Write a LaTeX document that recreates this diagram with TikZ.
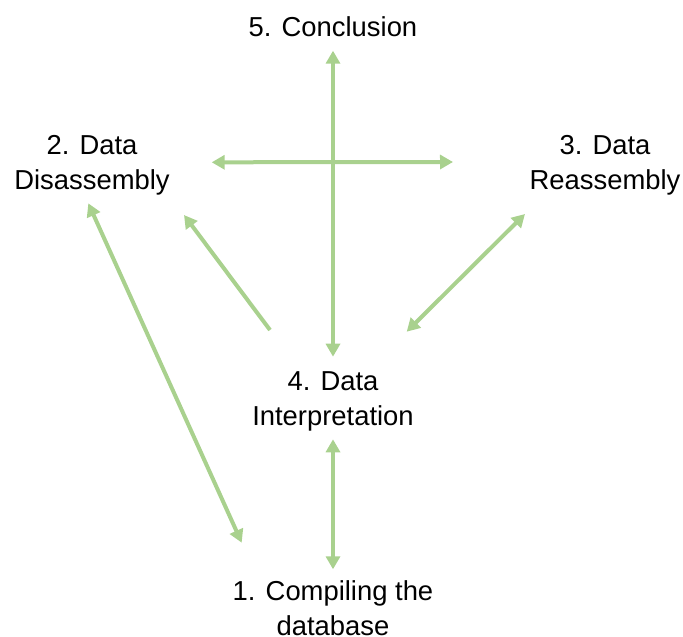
\documentclass[tikz,border=0pt]{standalone}
\usepackage{fontspec}
\setmainfont{Liberation Sans}
\usepackage{tikz}
\usetikzlibrary{arrows.meta}
\definecolor{leaf}{HTML}{A9D18E}

\begin{document}
\begin{tikzpicture}[x=1pt, y=-1pt,
		every node/.style={inner sep=0pt, align=center, font=\fontsize{27.4}{35}\selectfont},
		link/.style={leaf, line width=4pt, -{Triangle[length=13pt, width=14pt]}},
		both/.style={link, {Triangle[length=13pt, width=14pt]}-{Triangle[length=13pt, width=14pt]}}]
	\useasboundingbox (0,0) rectangle (683,637);
	\node (conc) at (333,27) {5. Conclusion};
	\node (disasm) at (92,165.5) {2. Data\\Disassembly};
	\node (reasm) at (605,165.5) {3. Data\\Reassembly};
	\node (interp) at (333,401) {4. Data\\Interpretation};
	\node (compile) at (333,608.5) {1. Compiling the\\database};
	\draw[both] ([shift={(0,23.7)}]conc.center) -- ([shift={(0,-44.3)}]interp.center);
	\draw[both] ([shift={(119.7,-3.2)}]disasm.center) -- ([shift={(-152,-3.5)}]reasm.center);
	\draw[link] ([shift={(-63,-71)}]interp.center) -- ([shift={(92,49.5)}]disasm.center);
	\draw[both] ([shift={(73.7,-69.3)}]interp.center) -- ([shift={(-80,48.5)}]reasm.center);
	\draw[both] ([shift={(-3.7,37.8)}]disasm.center) -- ([shift={(-91.3,-65.8)}]compile.center);
	\draw[both] ([shift={(0,38.3)}]interp.center) -- ([shift={(0,-39.2)}]compile.center);
\end{tikzpicture}
\end{document}
